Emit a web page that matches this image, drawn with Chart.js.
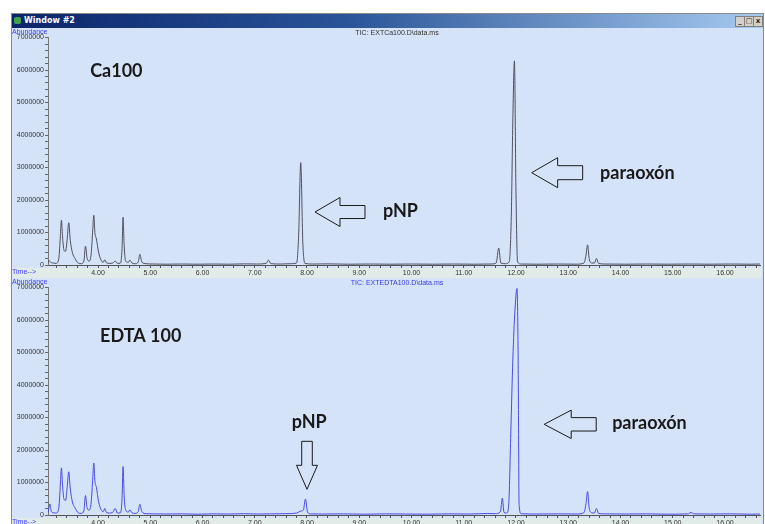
<!DOCTYPE html>
<html>
<head>
<meta charset="utf-8">
<script src="https://cdn.jsdelivr.net/npm/chart.js@4.4.1/dist/chart.umd.min.js"></script>
<style>
    html, body { margin: 0; padding: 0; background: #fff; width: 765px; height: 524px; overflow: hidden; }
    #win { position: absolute; left: 11px; top: 13px; width: 751px; height: 520px; border: 1px solid #8a8a8a; background: #d4e3f7; }
    #titlebar { position: absolute; left: 12px; top: 14px; width: 751px; height: 14px;
        background: linear-gradient(to right, #0a246a 0%, #2a5598 45%, #a6caf0 100%); }
    #titlebar .ttl { position: absolute; left: 12px; top: 2px; color: #fff; font: bold 8px "DejaVu Sans", sans-serif; }
    #titlebar .ico { position: absolute; left: 2px; top: 3px; width: 7px; height: 7px; background: #3fa34d; border-radius: 2px; }
    #titlebar .btn { position: absolute; top: 2px; width: 8px; height: 9px; background: #d4d0c8; border: 1px solid #808080;
        font: bold 7px "DejaVu Sans", sans-serif; color: #222; text-align: center; line-height: 9px; }
    canvas { position: absolute; left: 12px; }
    #c1 { top: 28px; }
    #c2 { top: 278px; }
</style>
</head>
<body>
<div id="win"></div>
<div id="titlebar">
    <div class="ico"></div>
    <div class="ttl">Window #2</div>
    <div class="btn" style="left:723px">_</div>
    <div class="btn" style="left:732px">□</div>
    <div class="btn" style="left:741px">x</div>
</div>
<canvas id="c1" width="750" height="250"></canvas>
<canvas id="c2" width="750" height="250"></canvas>

<script>
// ─────────────────────────────────────────────
// TIC chromatograms — Ca100 (top) vs EDTA 100 (bottom)
// ─────────────────────────────────────────────

// Retention time (min) and abundance — Ca100
const ca100Time = [
    3.04, 3.06, 3.08, 3.11, 3.15, 3.20, 3.25, 3.28, 3.30, 3.32, 3.35, 3.38, 3.41, 3.44, 3.47, 3.51,
    3.56, 3.62, 3.68, 3.73, 3.76, 3.79, 3.83, 3.87, 3.90, 3.92, 3.94, 3.97, 4.01, 4.06, 4.10, 4.13,
    4.16, 4.22, 4.28, 4.33, 4.37, 4.43, 4.46, 4.48, 4.50, 4.53, 4.58, 4.61, 4.65, 4.71, 4.77, 4.80,
    4.84, 4.92, 5.05, 5.30, 5.60, 5.90, 6.20, 6.50, 6.80, 7.05, 7.22, 7.26, 7.31, 7.50, 7.70, 7.80,
    7.84, 7.88, 7.92, 7.96, 8.10, 8.40, 8.80, 9.20, 9.60, 10.00, 10.40, 10.80, 11.20, 11.50, 11.62,
    11.67, 11.71, 11.80, 11.87, 11.91, 11.94, 11.97, 12.00, 12.03, 12.10, 12.40, 12.80, 13.15, 13.30,
    13.34, 13.37, 13.40, 13.45, 13.50, 13.54, 13.58, 13.70, 14.10, 14.50, 14.90, 15.30, 15.70, 16.10,
    16.50, 16.67
];
const ca100Abund = [
    40000, 130000, 110000, 70000, 60000, 50000, 200000, 900000, 1380000, 900000, 450000, 420000, 800000, 1300000, 750000, 380000,
    200000, 60000, 40000, 120000, 580000, 220000, 120000, 350000, 1100000, 1530000, 1000000, 800000, 400000, 150000, 80000, 160000,
    70000, 50000, 60000, 120000, 50000, 60000, 500000, 1470000, 600000, 120000, 80000, 150000, 60000, 40000, 90000, 330000,
    90000, 40000, 30000, 25000, 30000, 25000, 30000, 25000, 35000, 30000, 50000, 150000, 40000, 30000, 40000, 60000,
    900000, 3150000, 700000, 50000, 30000, 35000, 25000, 30000, 25000, 30000, 25000, 30000, 25000, 30000, 60000,
    520000, 60000, 40000, 100000, 1500000, 4500000, 6280000, 2200000, 100000, 30000, 25000, 30000, 25000, 60000,
    300000, 620000, 200000, 60000, 60000, 200000, 50000, 30000, 25000, 30000, 25000, 30000, 25000, 30000,
    25000, 30000
];

// Retention time (min) and abundance — EDTA 100
const edtaTime = [
    3.04, 3.06, 3.08, 3.10, 3.14, 3.20, 3.25, 3.28, 3.30, 3.32, 3.35, 3.38, 3.41, 3.44, 3.47, 3.51,
    3.56, 3.62, 3.68, 3.73, 3.76, 3.79, 3.83, 3.87, 3.90, 3.92, 3.94, 3.97, 4.01, 4.06, 4.10, 4.13,
    4.16, 4.22, 4.28, 4.33, 4.37, 4.43, 4.46, 4.48, 4.50, 4.53, 4.58, 4.61, 4.65, 4.71, 4.77, 4.80,
    4.84, 4.92, 5.05, 5.30, 5.60, 5.90, 6.20, 6.50, 6.80, 7.05, 7.30, 7.60, 7.80, 7.88, 7.93, 7.97,
    8.01, 8.06, 8.30, 8.70, 9.10, 9.50, 9.90, 10.30, 10.70, 11.10, 11.45, 11.60, 11.70, 11.74, 11.77,
    11.82, 11.86, 11.90, 11.94, 11.98, 12.02, 12.04, 12.06, 12.10, 12.40, 12.80, 13.15, 13.30, 13.34,
    13.37, 13.40, 13.45, 13.50, 13.54, 13.58, 13.70, 14.10, 14.50, 14.90, 15.30, 15.35, 15.40, 15.70,
    16.10, 16.50, 16.67
];
const edtaAbund = [
    60000, 200000, 340000, 150000, 70000, 60000, 220000, 950000, 1450000, 950000, 480000, 450000, 850000, 1330000, 800000, 400000,
    220000, 70000, 50000, 130000, 600000, 230000, 150000, 400000, 1150000, 1600000, 1050000, 850000, 420000, 160000, 100000, 200000,
    80000, 60000, 80000, 200000, 60000, 70000, 500000, 1490000, 600000, 150000, 90000, 160000, 70000, 50000, 100000, 330000,
    100000, 40000, 35000, 30000, 35000, 25000, 35000, 30000, 40000, 30000, 35000, 40000, 60000, 120000, 150000, 490000,
    90000, 35000, 30000, 35000, 25000, 35000, 30000, 25000, 35000, 30000, 45000, 40000, 100000, 520000, 80000,
    60000, 300000, 2500000, 4800000, 6300000, 6970000, 5000000, 300000, 40000, 30000, 35000, 30000, 70000, 350000,
    720000, 220000, 70000, 60000, 200000, 50000, 35000, 30000, 35000, 25000, 35000, 80000, 35000, 30000,
    35000, 25000, 30000
];

// Axis tick labels
const timeLabels = [4, 5, 6, 7, 8, 9, 10, 11, 12, 13, 14, 15, 16];
const abundLabels = [0, 1000000, 2000000, 3000000, 4000000, 5000000, 6000000, 7000000];

const T_MIN = 3.043, T_MAX = 16.67;
const PLOT_BG = "#d4e3f7";
const BAND_BG = "#e1ece9";

// ═══════════════════════════════════════════════
// ANNOTATIONS (text + outline arrows, anchored in data coords)
// ═══════════════════════════════════════════════

const ca100Notes = {
    header: "TIC: EXTCa100.D\\data.ms", headerColor: "#333",
    texts: [
        { t: 3.85, y: 5970000, text: "Ca100" },
        { t: 9.455, y: 1660000, text: "pNP" },
        { t: 13.61, y: 2830000, text: "paraoxón" },
    ],
    arrows: [
        { t: 8.153, y: 1630000, dir: "left", len: 50, head: 25, hw: 14.5, sw: 6.5 },
        { t: 12.30, y: 2840000, dir: "left", len: 51, head: 26, hw: 15, sw: 7 },
    ],
};

const edtaNotes = {
    header: "TIC: EXTEDTA100.D\\data.ms", headerColor: "#3a3ae8",
    texts: [
        { t: 4.04, y: 5510000, text: "EDTA 100" },
        { t: 7.707, y: 2860000, text: "pNP" },
        { t: 13.84, y: 2820000, text: "paraoxón" },
    ],
    arrows: [
        { t: 8.0, y: 790000, dir: "down", len: 48, head: 24, hw: 10.5, sw: 5.3 },
        { t: 12.54, y: 2790000, dir: "left", len: 52, head: 27, hw: 14.2, sw: 6.7 },
    ],
};

function drawArrow(ctx, x, y, a) {
    ctx.beginPath();
    if (a.dir === "left") {
        ctx.moveTo(x, y);
        ctx.lineTo(x + a.head, y - a.hw);
        ctx.lineTo(x + a.head, y - a.sw);
        ctx.lineTo(x + a.len, y - a.sw);
        ctx.lineTo(x + a.len, y + a.sw);
        ctx.lineTo(x + a.head, y + a.sw);
        ctx.lineTo(x + a.head, y + a.hw);
    } else {
        ctx.moveTo(x, y);
        ctx.lineTo(x - a.hw, y - a.head);
        ctx.lineTo(x - a.sw, y - a.head);
        ctx.lineTo(x - a.sw, y - a.len);
        ctx.lineTo(x + a.sw, y - a.len);
        ctx.lineTo(x + a.sw, y - a.head);
        ctx.lineTo(x + a.hw, y - a.head);
    }
    ctx.closePath();
    ctx.fillStyle = PLOT_BG;
    ctx.fill();
    ctx.strokeStyle = "#1a1a1a";
    ctx.lineWidth = 1;
    ctx.stroke();
}

const panelPlugin = {
    id: "panel",
    beforeDraw(chart) {
        const { ctx, chartArea: ca, width, height } = chart;
        ctx.save();
        ctx.fillStyle = PLOT_BG;
        ctx.fillRect(0, 0, width, height);
        ctx.fillStyle = BAND_BG;
        ctx.fillRect(0, ca.bottom + 3, width, 11);
        ctx.restore();
    },
    afterDatasetsDraw(chart, args, opts) {
        const { ctx, chartArea: ca, scales: { x, y } } = chart;
        const notes = opts.notes;
        ctx.save();
        ctx.font = "7px 'Liberation Sans', sans-serif";
        ctx.textBaseline = "middle";
        ctx.fillStyle = "#3a3aff";
        ctx.textAlign = "left";
        ctx.fillText("Abundance", 0, 4);
        ctx.fillText("Time-->", 0, ca.bottom + 7);
        ctx.fillStyle = notes.headerColor;
        ctx.textAlign = "center";
        ctx.fillText(notes.header, 385, 5);

        ctx.font = "bold 18px Lato, sans-serif";
        ctx.fillStyle = "#1a1a1a";
        ctx.textAlign = "left";
        notes.texts.forEach(n => ctx.fillText(n.text, x.getPixelForValue(n.t), y.getPixelForValue(n.y)));
        notes.arrows.forEach(a => drawArrow(ctx, x.getPixelForValue(a.t), y.getPixelForValue(a.y), a));
        ctx.restore();
    }
};

function buildChart(canvasId, times, values, color, notes) {
    return new Chart(document.getElementById(canvasId), {
        type: "line",
        data: {
            datasets: [{
                data: times.map((t, i) => ({ x: t, y: values[i] })),
                borderColor: color,
                borderWidth: 1,
                pointRadius: 0,
                cubicInterpolationMode: "monotone",
                fill: false,
            }]
        },
        options: {
            responsive: false,
            animation: false,
            layout: { padding: { top: 9.5, right: 2, left: 0, bottom: 0 } },
            plugins: {
                legend: { display: false },
                tooltip: { enabled: false },
                panel: { notes },
            },
            scales: {
                x: {
                    type: "linear",
                    min: T_MIN,
                    max: T_MAX,
                    afterFit: s => { s.height = 13; },
                    afterBuildTicks: s => {
                        const ticks = [];
                        for (let v = 32; v <= 166; v += 2) ticks.push({ value: v / 10 });
                        s.ticks = ticks;
                    },
                    grid: { drawOnChartArea: false, tickLength: 3, color: "#555" },
                    border: { color: "#555" },
                    ticks: {
                        autoSkip: false,
                        maxRotation: 0,
                        padding: 1,
                        font: { size: 7, family: "'Liberation Sans', sans-serif" },
                        color: "#333",
                        callback: v => timeLabels.includes(Math.round(v * 10) / 10) ? v.toFixed(2) : "",
                    },
                },
                y: {
                    min: 0,
                    max: 7000000,
                    afterFit: s => { s.width = 36; },
                    afterBuildTicks: s => {
                        const ticks = [];
                        for (let v = 0; v <= 7000000; v += 200000) ticks.push({ value: v });
                        s.ticks = ticks;
                    },
                    grid: { drawOnChartArea: false, tickLength: 3, color: "#666" },
                    border: { color: "#777" },
                    ticks: {
                        autoSkip: false,
                        padding: 1,
                        font: { size: 7, family: "'Liberation Sans', sans-serif" },
                        color: "#333",
                        callback: v => abundLabels.includes(v) ? String(v) : "",
                    },
                },
            },
        },
        plugins: [panelPlugin],
    });
}

// ═══════════════════════════════════════════════
// INIT
// ═══════════════════════════════════════════════
buildChart("c1", ca100Time, ca100Abund, "#505060", ca100Notes);
buildChart("c2", edtaTime, edtaAbund, "#4a4ae6", edtaNotes);
</script>
</body>
</html>
